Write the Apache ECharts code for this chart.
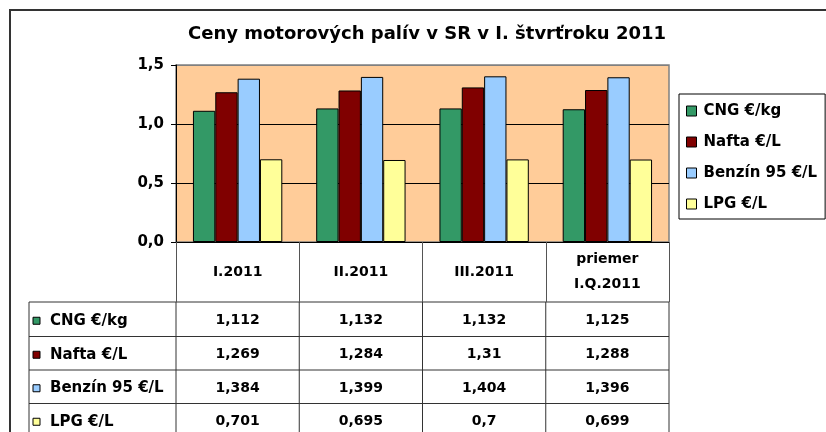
<!DOCTYPE html>
<html>
<head>
<meta charset="utf-8">
<script src="https://cdn.jsdelivr.net/npm/echarts@6.0.0/dist/echarts.min.js"></script>
<style>
html,body{margin:0;padding:0;background:#fff;}
#main{width:826px;height:432px;}
</style>
</head>
<body>
<div id="main"></div>
<script>
// údaje z grafu
var categories = ['I.2011', 'II.2011', 'III.2011', 'priemer\nI.Q.2011'];
var seriesNames = ['CNG €/kg', 'Nafta €/L', 'Benzín 95 €/L', 'LPG €/L'];
var seriesColors = ['#339966', '#800000', '#99CCFF', '#FFFF99'];
var cngData = [1.112, 1.132, 1.132, 1.125];
var naftaData = [1.269, 1.284, 1.31, 1.288];
var benzinData = [1.384, 1.399, 1.404, 1.396];
var lpgData = [0.701, 0.695, 0.7, 0.699];
var yMin = 0, yMax = 1.5, yStep = 0.5;

var allData = [cngData, naftaData, benzinData, lpgData];
var FONT = '"DejaVu Sans", sans-serif';

function comma(v) {
    return String(v).replace('.', ',');
}

var myChart = echarts.init(document.getElementById('main'));

var series = [];
for (var i = 0; i < seriesNames.length; i++) {
    series.push({
        name: seriesNames[i],
        type: 'bar',
        barGap: '0%',
        barCategoryGap: '27.5%',
        data: allData[i],
        itemStyle: {color: seriesColors[i], borderColor: '#000', borderWidth: 1}
    });
}

var option = {
    backgroundColor: '#fff',
    animation: false,
    title: {
        text: 'Ceny motorových palív v SR v I. štvrťroku 2011',
        left: 422,
        top: 20,
        textAlign: 'center',
        textStyle: {fontFamily: FONT, fontWeight: 'bold', fontSize: 18, color: '#000'}
    },
    legend: {
        orient: 'vertical',
        left: 679,
        top: 94,
        data: seriesNames,
        icon: 'rect',
        itemWidth: 10,
        itemHeight: 10,
        itemGap: 15,
        padding: [9, 8, 7, 7],
        borderColor: '#000',
        borderWidth: 1,
        itemStyle: {borderColor: '#000', borderWidth: 1},
        textStyle: {fontFamily: FONT, fontWeight: 'bold', fontSize: 15, color: '#000', lineHeight: 16, padding: [0, 0, 0, 2]}
    },
    grid: {
        left: 176, right: 157, top: 65, bottom: 190,
        show: true,
        backgroundColor: '#FFCC99',
        borderColor: '#808080',
        borderWidth: 1.5
    },
    xAxis: {
        type: 'category',
        data: categories,
        axisLine: {lineStyle: {color: '#000', width: 1}},
        axisTick: {show: true, interval: 0, length: 60, lineStyle: {color: '#555'}},
        axisLabel: {
            interval: 0, margin: 30, verticalAlign: 'middle', lineHeight: 25,
            fontFamily: FONT, fontWeight: 'bold', fontSize: 14, color: '#000'
        }
    },
    yAxis: {
        type: 'value',
        min: yMin, max: yMax, interval: yStep,
        axisLine: {show: true, lineStyle: {color: '#000'}},
        axisTick: {show: true, length: 5, lineStyle: {color: '#000'}},
        splitLine: {lineStyle: {color: ['#000', '#000', '#000', '#808080'], width: 1}},
        axisLabel: {
            margin: 12, fontFamily: FONT, fontWeight: 'bold', fontSize: 15, color: '#000',
            formatter: function (v) { return v.toFixed(1).replace('.', ','); }
        }
    },
    series: series
};
myChart.setOption(option);

// tabuľka údajov pod grafom
var tableLeft = 29, plotLeft = 176, plotRight = 669;
var rowLines = [302, 336.5, 370, 403.5, 437];
var elems = [];

// vonkajší rámik
elems.push({type: 'rect', shape: {x: 10, y: 10, width: 840, height: 440},
    style: {fill: null, stroke: '#333', lineWidth: 2}, silent: true});

for (var r = 0; r < 4; r++) {
    elems.push({type: 'line', shape: {x1: tableLeft, y1: rowLines[r], x2: plotRight, y2: rowLines[r]},
        style: {stroke: '#333', lineWidth: 1}});
}
var colBounds = [tableLeft];
var halfW = (plotRight - plotLeft) / categories.length / 2;
for (var c = 0; c < categories.length; c++) {
    colBounds.push(myChart.convertToPixel({xAxisIndex: 0}, c) - halfW);
}
colBounds.push(plotRight);
for (var k = 0; k < colBounds.length; k++) {
    elems.push({type: 'line', shape: {x1: colBounds[k], y1: 302, x2: colBounds[k], y2: 440},
        style: {stroke: '#333', lineWidth: 1}});
}

for (var s = 0; s < seriesNames.length; s++) {
    var cy = (rowLines[s] + rowLines[s + 1]) / 2 + 1.5;
    elems.push({type: 'rect', shape: {x: 33, y: cy - 3.5, width: 7, height: 7},
        style: {fill: seriesColors[s], stroke: '#000', lineWidth: 1}});
    elems.push({type: 'text', x: 50, y: cy, style: {
        text: seriesNames[s], font: 'bold 15px ' + FONT, fill: '#000',
        textAlign: 'left', textVerticalAlign: 'middle', align: 'left', verticalAlign: 'middle'}});
    for (var j = 0; j < categories.length; j++) {
        var cx = myChart.convertToPixel({xAxisIndex: 0}, j);
        elems.push({type: 'text', x: cx, y: cy, style: {
            text: comma(allData[s][j]), font: 'bold 14px ' + FONT, fill: '#000',
            textAlign: 'center', textVerticalAlign: 'middle', align: 'center', verticalAlign: 'middle'}});
    }
}
myChart.setOption({graphic: {elements: elems}});
</script>
</body>
</html>
